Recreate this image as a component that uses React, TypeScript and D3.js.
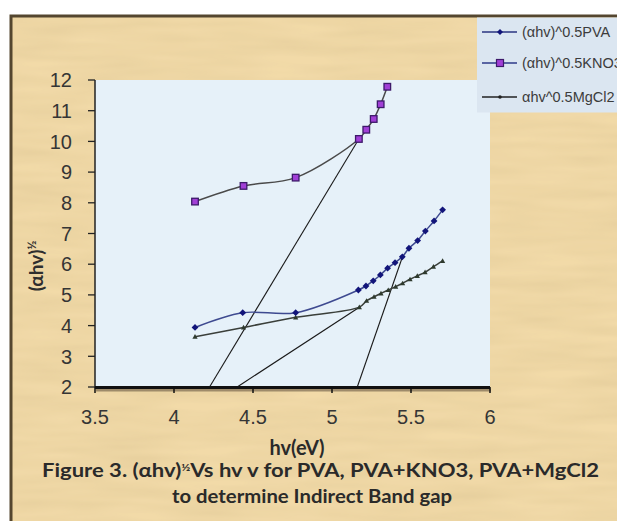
import React from "react";
import * as d3 from "d3";

const xTicks = [3.5, 4, 4.5, 5, 5.5, 6];
const yTicks = [2, 3, 4, 5, 6, 7, 8, 9, 10, 11, 12];

const hvPVA = [4.133, 4.435, 4.77, 5.167, 5.215, 5.261, 5.306, 5.352, 5.399, 5.445, 5.487, 5.542, 5.591, 5.646, 5.7];
const valPVA = [3.94, 4.42, 4.42, 5.16, 5.29, 5.46, 5.65, 5.87, 6.05, 6.24, 6.52, 6.77, 7.08, 7.41, 7.77];

const hvKNO3 = [4.133, 4.44, 4.77, 5.17, 5.217, 5.264, 5.308, 5.35];
const valKNO3 = [8.04, 8.55, 8.82, 10.08, 10.38, 10.73, 11.21, 11.78];

const hvMgCl2 = [4.133, 4.44, 4.77, 5.173, 5.219, 5.266, 5.31, 5.356, 5.403, 5.447, 5.494, 5.54, 5.589, 5.642, 5.7];
const valMgCl2 = [3.64, 3.94, 4.27, 4.6, 4.81, 4.94, 5.05, 5.16, 5.27, 5.38, 5.51, 5.62, 5.74, 5.92, 6.11];

const tangentHv = [
  [4.225, 5.17],
  [4.4, 5.173],
  [5.16, 5.45],
];
const tangentVal = [
  [2, 10.08],
  [2, 4.6],
  [2, 6.3],
];

const legendLabels = ["(\u03b1hv)^0.5PVA", "(\u03b1hv)^0.5KNO3", "\u03b1hv^0.5MgCl2"];

export default function App() {
  const W = 617;
  const H = 521;
  const x = d3.scaleLinear().domain([3.5, 6]).range([95, 490]);
  const y = d3.scaleLinear().domain([2, 12]).range([387, 80]);

  const line = d3
    .line<[number, number]>()
    .x((d) => x(d[0]))
    .y((d) => y(d[1]))
    .curve(d3.curveCatmullRom.alpha(0.5));
  const straight = d3
    .line<[number, number]>()
    .x((d) => x(d[0]))
    .y((d) => y(d[1]));

  const pva: [number, number][] = hvPVA.map((h, i) => [h, valPVA[i]]);
  const kno: [number, number][] = hvKNO3.map((h, i) => [h, valKNO3[i]]);
  const mg: [number, number][] = hvMgCl2.map((h, i) => [h, valMgCl2[i]]);

  const diamond = (cx: number, cy: number, r: number) =>
    `M${cx},${cy - r}L${cx + r},${cy}L${cx},${cy + r}L${cx - r},${cy}Z`;
  const tri = (cx: number, cy: number, r: number) =>
    `M${cx},${cy - r}L${cx + r},${cy + r * 0.8}L${cx - r},${cy + r * 0.8}Z`;

  const numFont = "'Liberation Sans', Arial, sans-serif";
  const capFont = "Lato, 'Open Sans', sans-serif";

  const legendY = [32, 63, 97];

  return (
    <svg
      width={W}
      height={H}
      style={{ position: "absolute", left: 0, top: 0 }}
      xmlns="http://www.w3.org/2000/svg"
    >
      <defs>
        <filter id="paper" x="0" y="0" width="100%" height="100%">
          <feTurbulence type="fractalNoise" baseFrequency="0.012 0.09" numOctaves={2} seed={3} result="n" />
          <feColorMatrix
            in="n"
            type="matrix"
            values="0 0 0 0 0.55  0 0 0 0 0.42  0 0 0 0 0.2  0 0 0 0.35 -0.08"
            result="c"
          />
          <feComposite in="c" in2="SourceGraphic" operator="in" result="t" />
          <feMerge>
            <feMergeNode in="SourceGraphic" />
            <feMergeNode in="t" />
          </feMerge>
        </filter>
      </defs>
      <rect x={0} y={0} width={W} height={H} fill="#ffffff" />
      {/* parchment frame */}
      <rect x={11} y={16} width={W} height={H} fill="#f2daa8" filter="url(#paper)" />
      <rect x={11} y={16} width={W} height={H} fill="none" stroke="#54462f" strokeWidth={3} />
      {/* plot area */}
      <rect x={95} y={80} width={395} height={307} fill="#e6f1f9" />
      {/* legend box */}
      <rect x={477} y={17.5} width={W - 477} height={95} fill="#dbe6f1" />

      {/* tangent lines */}
      {tangentHv.map((hv, i) => (
        <path
          key={"t" + i}
          d={straight(hv.map((h, j) => [h, tangentVal[i][j]] as [number, number])) || ""}
          fill="none"
          stroke="#1a1a1a"
          strokeWidth={1.1}
        />
      ))}

      {/* series lines */}
      <path d={line(mg) || ""} fill="none" stroke="#3a3f3a" strokeWidth={1.5} />
      <path d={line(pva) || ""} fill="none" stroke="#3e4a90" strokeWidth={1.5} />
      <path d={line(kno) || ""} fill="none" stroke="#4a4a4a" strokeWidth={1.5} />

      {/* markers */}
      {mg.map((d, i) => (
        <path key={"m" + i} d={tri(x(d[0]), y(d[1]), 2.6)} fill="#2e3a2e" />
      ))}
      {pva.map((d, i) => (
        <path key={"p" + i} d={diamond(x(d[0]), y(d[1]), 3.4)} fill="#12157a" />
      ))}
      {kno.map((d, i) => (
        <rect
          key={"k" + i}
          x={x(d[0]) - 3.3}
          y={y(d[1]) - 3.3}
          width={6.6}
          height={6.6}
          fill="#a13fd6"
          stroke="#3d1a6a"
          strokeWidth={1.3}
        />
      ))}

      {/* y axis */}
      <line x1={95} y1={80} x2={95} y2={387} stroke="#222" strokeWidth={1.5} />
      {yTicks.map((t) => (
        <g key={"y" + t}>
          <line x1={88} x2={95} y1={y(t)} y2={y(t)} stroke="#222" strokeWidth={1.3} />
          <text
            x={72}
            y={y(t)}
            dy="0.36em"
            textAnchor="end"
            fontFamily={numFont}
            fontSize={20}
            fill="#353535"
          >
            {t}
          </text>
        </g>
      ))}

      {/* x axis with shadow */}
      <line x1={96} y1={390} x2={491} y2={390} stroke="#6b5a45" strokeWidth={3} opacity={0.6} />
      <line x1={95} y1={387.5} x2={490} y2={387.5} stroke="#111" strokeWidth={3} />
      {xTicks.map((t) => (
        <g key={"x" + t}>
          <line x1={x(t)} x2={x(t)} y1={387} y2={393} stroke="#111" strokeWidth={1.5} />
          <text
            x={x(t)}
            y={417}
            dy="0.36em"
            textAnchor="middle"
            fontFamily={numFont}
            fontSize={20}
            fill="#353535"
          >
            {t}
          </text>
        </g>
      ))}

      {/* y title */}
      <text
        transform="translate(43,266) rotate(-90)"
        textAnchor="middle"
        fontFamily={capFont}
        fontWeight="bold"
        fontSize={19}
        fill="#2e2e2e"
      >
        (αhv)
        <tspan fontSize={12} dy={-7}>
          ½
        </tspan>
      </text>

      {/* x title */}
      <text
        x={297}
        y={455}
        textAnchor="middle"
        fontFamily={capFont}
        fontWeight="bold"
        fontSize={20}
        fill="#2a2a2a"
      >
        hv(eV)
      </text>

      {/* caption */}
      <text
        x={42}
        y={477}
        fontFamily={capFont}
        fontWeight="bold"
        fontSize={18}
        fill="#2a2a2a"
        textLength={557}
        lengthAdjust="spacingAndGlyphs"
      >
        Figure 3. (αhv)<tspan fontSize={10} dy={-6}>½</tspan>
        <tspan dy={6}>Vs hv v  for PVA, PVA+KNO3, PVA+MgCl2</tspan>
      </text>
      <text
        x={172}
        y={503}
        fontFamily={capFont}
        fontWeight="bold"
        fontSize={18}
        fill="#2a2a2a"
        textLength={280}
        lengthAdjust="spacingAndGlyphs"
      >
        to determine Indirect Band gap
      </text>

      {/* legend */}
      {legendLabels.map((lab, i) => (
        <g key={"l" + i}>
          <line
            x1={482}
            x2={517}
            y1={legendY[i]}
            y2={legendY[i]}
            stroke={i === 0 ? "#2a3480" : i === 1 ? "#2e3a88" : "#222"}
            strokeWidth={1.5}
          />
          {i === 0 && <path d={diamond(500, legendY[i], 3)} fill="#12157a" />}
          {i === 1 && (
            <rect x={496.5} y={legendY[i] - 3.5} width={7} height={7} fill="#a13fd6" stroke="#3d1a6a" strokeWidth={1.2} />
          )}
          {i === 2 && <circle cx={500} cy={legendY[i]} r={1.8} fill="#222" />}
          <text
            x={522}
            y={legendY[i]}
            dy="0.35em"
            fontFamily={numFont}
            fontSize={14.5}
            fill="#3c3c3c"
          >
            {lab}
          </text>
        </g>
      ))}
    </svg>
  );
}
